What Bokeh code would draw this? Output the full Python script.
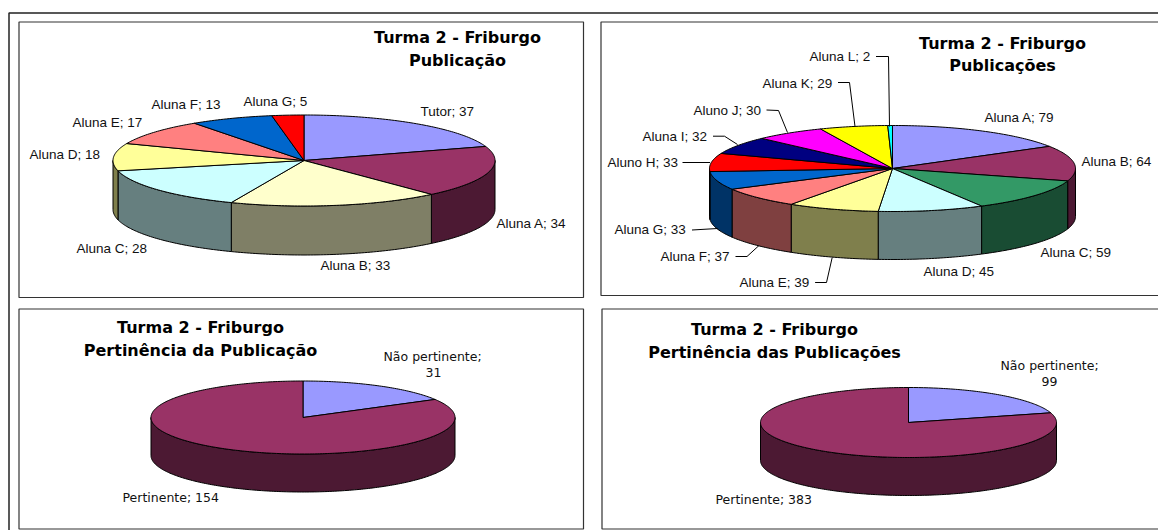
import numpy as np
from bokeh.plotting import figure
from bokeh.models import Range1d
from bokeh.core.properties import value
from bokeh.embed import file_html
from bokeh.resources import INLINE

# ---------- data ----------
names_a = ["Tutor", "Aluna A", "Aluna B", "Aluna C", "Aluna D", "Aluna E", "Aluna F", "Aluna G"]
values_a = [37, 34, 33, 28, 18, 17, 13, 5]
colors_a = ["#9999FF", "#993366", "#FFFFCC", "#CCFFFF", "#FFFF99", "#FF8080", "#0066CC", "#FF0000"]

names_b = ["Aluna A", "Aluna B", "Aluna C", "Aluna D", "Aluna E", "Aluna F",
           "Aluna G", "Aluno H", "Aluna I", "Aluno J", "Aluna K", "Aluna L"]
values_b = [79, 64, 59, 45, 39, 37, 33, 33, 32, 30, 29, 2]
colors_b = ["#9999FF", "#993366", "#339966", "#CCFFFF", "#FFFF99", "#FF8080",
            "#0066CC", "#FF0000", "#000080", "#FF00FF", "#FFFF00", "#00FFFF"]

values_c = [31, 154]
values_d = [99, 383]
colors_cd = ["#9999FF", "#993366"]

# ---------- layout (pixels of the page) ----------
W, H = 1158, 530
p = figure(width=W, height=H, x_range=Range1d(0, W), y_range=Range1d(H, 0),
           x_axis_type=None, y_axis_type=None, toolbar_location=None,
           output_backend="svg", min_border=0, outline_line_color=None,
           background_fill_color="white", border_fill_color="white")
p.grid.visible = False

# outer frame: left and top rules
p.line([8.5, 8.5, W], [H, 12.5, 12.5], line_color="#222222", line_width=1.5)

# panels: left, top, right, bottom
panels = [(18.5, 21.5, 583, 297), (600.5, 21.5, W + 3, 295),
          (18.5, 308.5, 583, 528.5), (601.5, 308.5, W + 3, 528.5)]
p.patches([[a, c, c, a] for a, b, c, d in panels], [[b, b, d, d] for a, b, c, d in panels],
          fill_color="white", line_color="#333333", line_width=1.2)


def shade(hex_color):
    r, g, b = (int(hex_color[i:i + 2], 16) for i in (1, 3, 5))
    return "#%02X%02X%02X" % (r // 2, g // 2, b // 2)


def draw_pie(values, colors, cx, cy, rx, ry, depth):
    edges = np.cumsum([0] + list(values)) / sum(values) * 2 * np.pi
    sx, sy, sc, tx, ty, tc = [], [], [], [], [], []
    for i, col in enumerate(colors):
        a, b = edges[i], edges[i + 1]
        ang = np.linspace(a, b, max(3, int((b - a) * 60)))
        tx.append([cx] + list(cx + rx * np.sin(ang)))
        ty.append([cy] + list(cy - ry * np.cos(ang)))
        tc.append(col)
        lo, hi = max(a, np.pi / 2), min(b, 3 * np.pi / 2)
        if hi > lo:
            s = np.linspace(lo, hi, max(3, int((hi - lo) * 60)))
            ex = cx + rx * np.sin(s)
            ey = cy - ry * np.cos(s)
            sx.append(list(ex) + list(ex[::-1]))
            sy.append(list(ey) + list((ey + depth)[::-1]))
            sc.append(shade(col))
    p.patches(sx, sy, fill_color=sc, line_color="black", line_width=1)
    p.patches(tx, ty, fill_color=tc, line_color="black", line_width=1)


draw_pie(values_a, colors_a, 303.5, 160, 191, 45.5, 49)
draw_pie(values_b, colors_b, 892, 168, 183, 43, 48)
draw_pie(values_c, colors_cd, 302.5, 417, 152, 36.5, 38)
draw_pie(values_d, colors_cd, 908, 422, 148, 35, 38)

# leader lines of the second pie
leaders_x = [[875.5, 888, 889], [837.5, 849, 854.5], [766, 778, 787], [712.5, 724, 737],
             [682, 709.5], [691.5, 717], [735, 746.5, 758.5], [814.6, 826, 831.7]]
leaders_y = [[56, 56, 126], [82, 82, 126], [109.5, 110, 132], [135.7, 135.7, 144],
             [162, 162], [229.5, 228], [256, 256, 245], [282, 282, 257]]
p.multi_line(leaders_x, leaders_y, line_color="black", line_width=1)

# ---------- texts ----------
pos_a = [(420, 111), (496, 223), (320, 265), (76, 248), (29, 154), (72, 122), (151, 104), (243, 101)]
pos_b = [(984, 117), (1081, 161), (1040, 252), (923, 271), (739, 282), (660, 256),
         (614, 229), (607, 162), (642, 136), (693, 110), (762, 83), (809, 56)]
lab_x = [q[0] for q in pos_a + pos_b]
lab_y = [q[1] for q in pos_a + pos_b]
lab_t = [f"{n}; {v}" for n, v in zip(names_a + names_b, values_a + values_b)]
p.text(lab_x, lab_y, text=lab_t, text_font=value("Liberation Sans"), text_font_size="13.5px",
       text_color="#111111", text_align="left", text_baseline="middle")

small_x = [383, 433, 122, 1000, 1049, 715]
small_y = [356, 372, 497, 365, 381, 499]
small_t = ["Não pertinente;", str(values_c[0]), f"Pertinente; {values_c[1]}",
           "Não pertinente;", str(values_d[0]), f"Pertinente; {values_d[1]}"]
small_al = ["left", "center", "left", "left", "center", "left"]
p.text(small_x, small_y, text=small_t, text_align=small_al, text_font=value("DejaVu Sans"),
       text_font_size="12.5px", text_color="#111111", text_baseline="middle")

title_x = [457, 457, 1002, 1002, 200, 200, 774, 774]
title_y = [37, 60, 43, 65, 327, 350, 329, 352]
title_t = ["Turma 2 - Friburgo", "Publicação", "Turma 2 - Friburgo", "Publicações",
           "Turma 2 - Friburgo", "Pertinência da Publicação",
           "Turma 2 - Friburgo", "Pertinência das Publicações"]
p.text(title_x, title_y, text=title_t, text_align="center", text_baseline="middle",
       text_font=value("DejaVu Sans"), text_font_style="bold", text_font_size="16px",
       text_color="black")

open("out.html", "w").write(file_html(p, INLINE))
